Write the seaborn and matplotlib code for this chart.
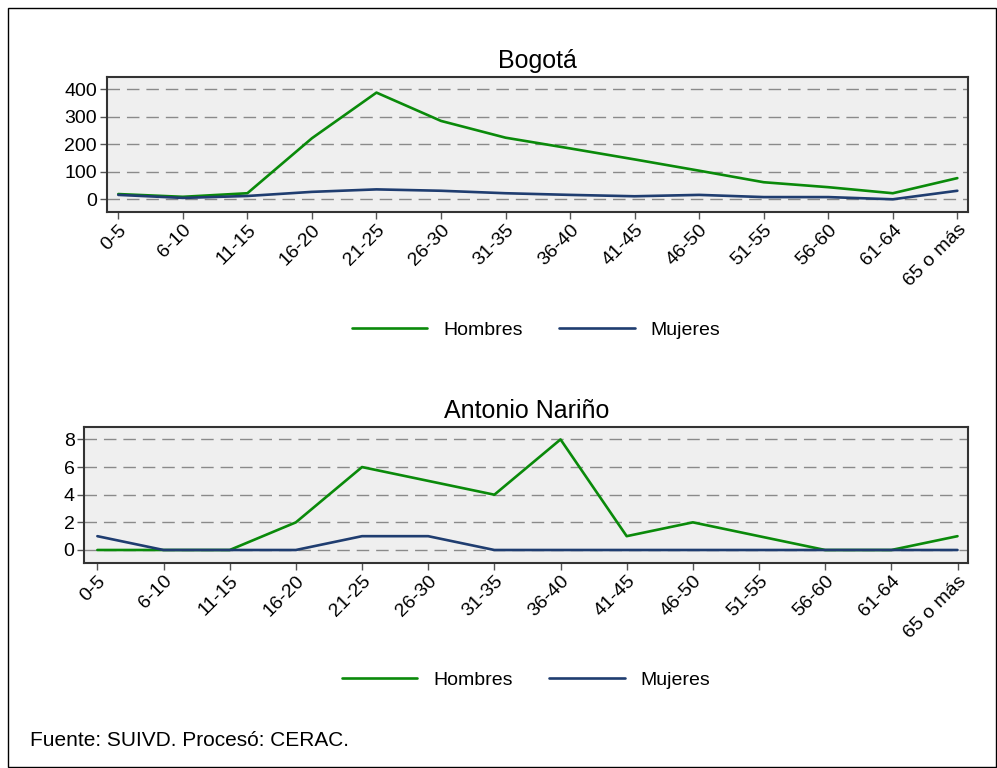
import pandas as pd
import seaborn as sns
import matplotlib.pyplot as plt
from matplotlib.patches import Rectangle

# age groups and counts
age_groups = ['0-5', '6-10', '11-15', '16-20', '21-25', '26-30', '31-35',
              '36-40', '41-45', '46-50', '51-55', '56-60', '61-64', '65 o más']
bogota_hombres = [19, 9, 22, 222, 388, 285, 224, 185, 145, 104, 62, 44, 22, 77]
bogota_mujeres = [16, 5, 12, 27, 36, 31, 22, 16, 11, 16, 8, 8, 0, 31]
narino_hombres = [0, 0, 0, 2, 6, 5, 4, 8, 1, 2, 1, 0, 0, 1]
narino_mujeres = [1, 0, 0, 0, 1, 1, 0, 0, 0, 0, 0, 0, 0, 0]

series_names = ['Hombres', 'Mujeres']
colors = {'Hombres': '#0a8a0a', 'Mujeres': '#1f3d70'}


def make_long_df(hombres, mujeres):
    frames = []
    for name, vals in zip(series_names, [hombres, mujeres]):
        frames.append(pd.DataFrame({'edad': age_groups, 'valor': vals, 'sexo': name}))
    return pd.concat(frames, ignore_index=True)


sns.set_theme(style='white')
plt.rcParams['font.family'] = ['Liberation Sans', 'DejaVu Sans']
plt.rcParams['text.color'] = 'black'

fig = plt.figure(figsize=(9.97, 7.68), dpi=100)
fig.patches.append(Rectangle((8 / 997, 1 / 768), 988 / 997, 759 / 768, transform=fig.transFigure,
                             fill=False, edgecolor='black', linewidth=1.0))


def draw_panel(rect, df, title, yticks, ylim, xlim, legend_x, legend_y):
    ax = fig.add_axes(rect)
    ax.set_facecolor('#efefef')
    sns.lineplot(data=df, x='edad', y='valor', hue='sexo', palette=colors, sort=False,
                 linewidth=1.9, ax=ax, legend=False, hue_order=series_names)
    ax.set_yticks(yticks)
    ax.set_ylim(*ylim)
    ax.set_xlim(*xlim)
    for y in yticks:
        ax.axhline(y, color='#8a8a8a', linewidth=1.0, dashes=(9, 5), zorder=0)
    ax.set_xlabel('')
    ax.set_ylabel('')
    ax.set_title(title, fontsize=18, pad=6, color='black')
    ax.tick_params(axis='both', direction='out', length=5, width=1, color='#555555',
                   labelsize=14, left=True, bottom=True, pad=2, labelcolor='black')
    ax.set_xticks(range(len(age_groups)))
    ax.set_xticklabels(age_groups, rotation=45, ha='right', rotation_mode='anchor')
    for s in ax.spines.values():
        s.set_color('#333333')
        s.set_linewidth(1.5)
    handles = [plt.Line2D([], [], color=colors[n], linewidth=1.9) for n in series_names]
    fig.legend(handles, series_names, loc='center', bbox_to_anchor=(legend_x, legend_y),
               ncol=2, frameon=False, fontsize=14, handlelength=3.9, handletextpad=0.8,
               columnspacing=1.9)
    return ax


draw_panel([0.107, 0.7244, 0.8639, 0.1758], make_long_df(bogota_hombres, bogota_mujeres),
           'Bogotá', [0, 100, 200, 300, 400], (-45, 446), (-0.18, 13.165),
           536 / 997, 1 - 330 / 768)
draw_panel([0.0846, 0.2673, 0.8864, 0.1771], make_long_df(narino_hombres, narino_mujeres),
           'Antonio Nariño', [0, 2, 4, 6, 8], (-0.92, 8.92), (-0.197, 13.16),
           526 / 997, 1 - 680 / 768)

fig.text(30 / 997, 1 - 740 / 768, 'Fuente: SUIVD. Procesó: CERAC.', fontsize=15, va='center')

fig.savefig('out.png', dpi=100)
